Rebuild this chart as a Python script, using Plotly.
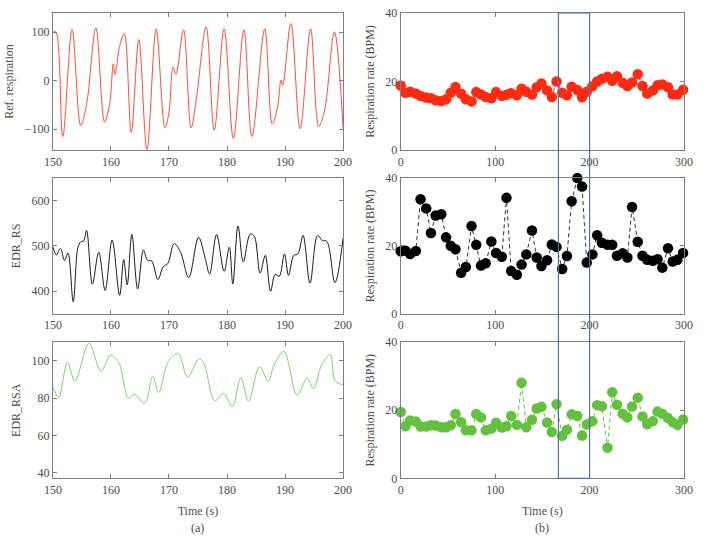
import plotly.graph_objects as go

# ---------- left panels: key points of signals (time s, value) ----------
resp_t = [150, 150.5, 151.7, 153.3, 154.8, 155.8, 157.4, 158.9, 159.8, 160.4, 160.7, 161.5, 162.3,
          163.5, 164.8, 166.2, 167.8, 169.3, 170.0, 170.7, 171.2, 172.5, 173.8, 174.7, 176.4,
          177.8, 179.5, 181.1, 182.9, 184.3, 186.5, 187.8, 188.7, 189.3, 189.6, 191.0, 192.6,
          194.4, 195.8, 196.8, 198.5, 200]
resp_v = [100, 101, -115, 106, -92, -49, 109, -85, -45, 35, 13, 71, 97,
          -107, 85, -142, 107, -97, -65, 28, 13, 105, -97, -39, 111,
          -102, 107, -119, 105, -115, 107, -89, -55, 1, -9, 118, -99,
          107, -94, -62, 101, -99]

rs_t = [150, 150.6, 151.3, 152.0, 152.6, 153.5, 154.3, 154.8, 155.3, 155.8, 156.8, 157.9, 159.0,
        160.2, 161.5, 162.2, 162.8, 163.6, 164.6, 165.6, 166.3, 167.0, 168.1, 169.0, 169.8,
        170.9, 172.0, 173.4, 175.1, 176.2, 177.0, 178.2, 179.5, 180.4, 181.0, 181.9, 182.8,
        184.0, 184.7, 185.7, 186.6, 187.5, 188.3, 189.0, 189.9, 190.6, 191.5, 192.2, 193.1,
        194.3, 195.6, 196.4, 197.2, 198.6, 200]
rs_v = [498, 480, 494, 468, 484, 377, 496, 509, 511, 534, 416, 486, 402,
        513, 391, 470, 414, 525, 405, 491, 468, 467, 426, 454, 461,
        505, 486, 430, 519, 475, 438, 525, 444, 497, 416, 544, 465,
        526, 521, 440, 479, 400, 437, 433, 482, 435, 479, 482, 523,
        418, 523, 512, 510, 419, 517]

rsa_t = [150, 151.0, 152.5, 153.8, 156.2, 158.3, 159.9, 161.3, 163.0, 164.0, 165.8, 167.2, 168.2,
         170.0, 171.6, 173.2, 175.1, 175.9, 177.9, 179.4, 180.9, 182.4, 183.7, 185.6, 187.1,
         188.1, 189.8, 192.1, 193.8, 194.9, 196.3, 197.8, 198.6, 200]
rsa_v = [86, 80.4, 99.1, 89.1, 109.4, 94.3, 103, 99.5, 80, 82.1, 77.3, 91.7, 83,
         100.3, 103.8, 91.3, 100.9, 99.5, 78.5, 82.5, 75.6, 90.8, 78.3, 96.9, 89.1,
         97.7, 105, 81.6, 90.8, 85.1, 97.7, 103.3, 89.4, 87]

# ---------- right panels: respiration rate estimates ----------
rate_t = [0, 5, 10, 16, 21, 27, 32, 37, 43, 48, 53, 58, 64, 69, 75, 80, 85, 90, 96, 101,
          107, 112, 117, 123, 128, 133, 139, 144, 149, 155, 160, 165, 171, 176, 181, 187,
          192, 197, 203, 208, 213, 219, 224, 229, 235, 240, 245, 251, 256, 261, 267, 272,
          277, 283, 288, 293, 299]
rate_ref = [18.8, 16.7, 17, 16.5, 15.8, 15.3, 15.1, 14.5, 14.3, 14.8, 16.7, 18.4, 16.4, 14.8,
            14.2, 16.9, 16.2, 15.5, 15.1, 16.9, 15.8, 16.1, 16.6, 16, 17.9, 17, 16.2, 18.3,
            19.4, 17.4, 15.5, 20, 16.7, 16, 18.5, 17.5, 15.4, 17, 18.6, 20, 20.8, 21.4, 20.2,
            21.5, 19.6, 18.7, 19.7, 22.1, 18.7, 16.5, 17.4, 18.9, 19.1, 18.3, 16.2, 16.2, 17.6]
rate_rs = [18.4, 18.6, 17.6, 18.5, 33.7, 31, 23.8, 28.9, 29.3, 22.5, 20, 19, 12.1, 13.8, 25.8,
           20.3, 14.2, 14.9, 21.3, 17.9, 16.8, 34.1, 12.6, 11.5, 14.5, 17.5, 24.5, 16.6, 14.1,
           15.8, 20.4, 19.7, 13.2, 17, 33.1, 39.9, 37.4, 15.1, 17.5, 23.1, 20.9, 20.3, 20.3,
           17.1, 17.8, 16.6, 31.4, 21.2, 17.1, 15.9, 15.6, 16.1, 13.6, 19.3, 15.4, 15.9, 17.9]
rate_rsa = [19.5, 15.3, 17, 16.7, 15.2, 15.2, 15.6, 15.5, 15, 15, 15.6, 18.9, 16.5, 14.1, 14.1,
            18.9, 17.9, 14.1, 14.6, 16.3, 14.9, 15.3, 18.3, 15.7, 28.1, 15, 17.2, 20.5, 21,
            16.4, 13.6, 21.8, 12.5, 14.3, 18.8, 18.3, 12.6, 15.8, 16.8, 21.5, 21.2, 9, 25.3,
            21.6, 19, 17.9, 21.1, 23.7, 18.2, 15.9, 16.8, 19.6, 19, 17.7, 16.5, 15.7, 17.3]

left_ylabels = ["Ref. respiration", "EDR_RS", "EDR_RSA"]
window = [167, 200]

RED_LINE = "#ff4b3c"
BLACK_LINE = "#1a1a1a"
GREEN_LINE = "#7ed26a"
RED_M = "#ff2a12"
GREEN_M = "#62c23e"
BLUE = "#5470a8"
FONT = "Liberation Serif"
TXT = "#4d4d4d"

fig = go.Figure()

fig.add_trace(go.Scatter(x=resp_t, y=resp_v, mode="lines", line=dict(color=RED_LINE, width=1, shape="spline", smoothing=1.0), xaxis="x", yaxis="y"))
fig.add_trace(go.Scatter(x=rs_t, y=rs_v, mode="lines", line=dict(color=BLACK_LINE, width=1, shape="spline", smoothing=1.0), xaxis="x2", yaxis="y2"))
fig.add_trace(go.Scatter(x=rsa_t, y=rsa_v, mode="lines", line=dict(color=GREEN_LINE, width=1, shape="spline", smoothing=1.0), xaxis="x3", yaxis="y3"))

for ys, mc, lc, ax in [(rate_ref, RED_M, RED_M, "4"), (rate_rs, "#000000", "#333333", "5"), (rate_rsa, GREEN_M, GREEN_M, "6")]:
    fig.add_trace(go.Scatter(x=rate_t, y=ys, mode="lines+markers",
                             marker=dict(color=mc, size=10.5),
                             line=dict(color=lc, width=1, dash="4px,3px"),
                             cliponaxis=False,
                             xaxis="x" + ax, yaxis="y" + ax))

ydoms = [(0.731, 0.989), (0.423, 0.679), (0.114, 0.370)]
left_dom = (0.064, 0.487)
right_dom = (0.571, 0.984)

axis_common = dict(showline=True, linecolor="#808080", linewidth=1, mirror="allticks",
                   ticks="inside", ticklen=4, tickcolor="#808080", showgrid=False, zeroline=False,
                   tickfont=dict(family=FONT, size=12, color=TXT))

left_yranges = [[-143, 140], [350, 650], [37, 110]]
left_yticks = [[-100, 0, 100], [400, 500, 600], [40, 60, 80, 100]]

layout = dict(
    width=704, height=546, margin=dict(l=0, r=0, t=0, b=0),
    paper_bgcolor="white", plot_bgcolor="white", showlegend=False,
    font=dict(family=FONT, size=12, color=TXT),
)

for i in range(3):
    xa = "xaxis" if i == 0 else f"xaxis{i+1}"
    ya = "yaxis" if i == 0 else f"yaxis{i+1}"
    yname = "y" if i == 0 else f"y{i+1}"
    xname = "x" if i == 0 else f"x{i+1}"
    layout[xa] = dict(axis_common, domain=left_dom, range=[150, 200], tickvals=[150, 160, 170, 180, 190, 200], anchor=yname)
    layout[ya] = dict(axis_common, domain=ydoms[i], range=left_yranges[i], tickvals=left_yticks[i], anchor=xname,
                      title=dict(text=left_ylabels[i], font=dict(family=FONT, size=12, color=TXT), standoff=8))
    j = i + 4
    layout[f"xaxis{j}"] = dict(axis_common, domain=right_dom, range=[0, 300], tickvals=[0, 100, 200, 300], anchor=f"y{j}")
    layout[f"yaxis{j}"] = dict(axis_common, domain=ydoms[i], range=[0, 40], tickvals=[0, 20, 40], anchor=f"x{j}",
                               title=dict(text="Respiration rate (BPM)", font=dict(family=FONT, size=12, color=TXT), standoff=8))

layout["xaxis3"]["title"] = dict(text="Time (s)", font=dict(family=FONT, size=12, color=TXT), standoff=10)
layout["xaxis6"]["title"] = dict(text="Time (s)", font=dict(family=FONT, size=12, color=TXT), standoff=10)

fig.update_layout(**layout)

fig.add_shape(type="rect", xref="x4", yref="paper", x0=window[0], x1=window[1], y0=ydoms[2][0], y1=ydoms[0][1],
              line=dict(color=BLUE, width=1.2), fillcolor="rgba(0,0,0,0)", layer="above")

for lab, dom in [("(a)", left_dom), ("(b)", right_dom)]:
    fig.add_annotation(text=lab, x=sum(dom) / 2, y=1 - 535 / 546, xref="paper", yref="paper",
                       xanchor="center", yanchor="middle", showarrow=False,
                       font=dict(family=FONT, size=12, color=TXT))

fig.write_html("out.html")
